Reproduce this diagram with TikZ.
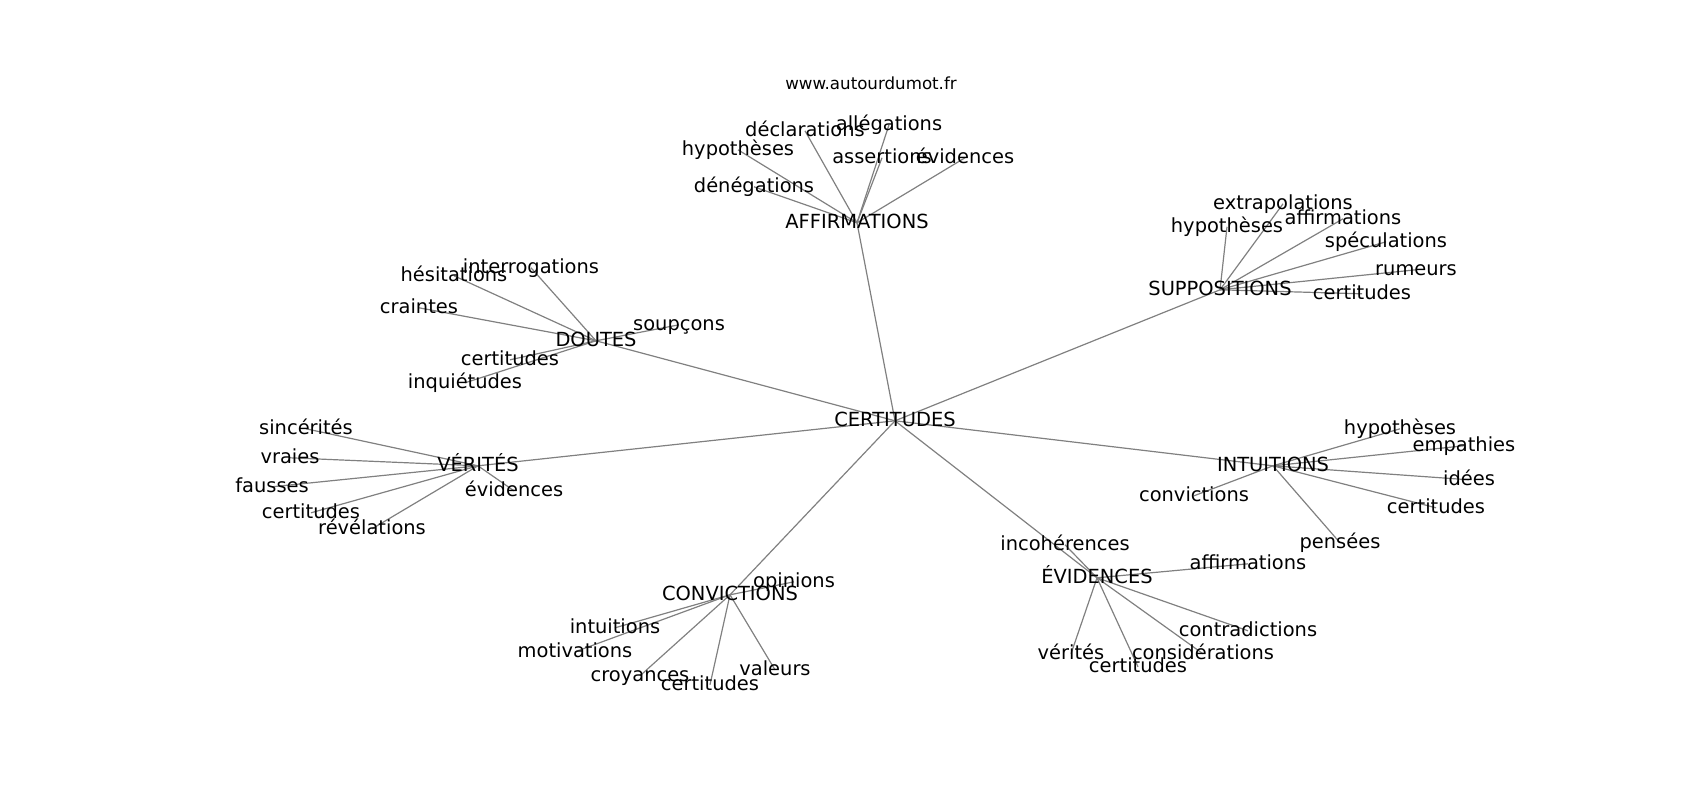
\documentclass[tikz,border=0pt]{standalone}
\usepackage{fontspec}
\setmainfont{DejaVu Sans}
\pgfdeclarelayer{bg}
\pgfsetlayers{bg,main}
\tikzset{
  lbl/.style={inner sep=0pt, text height=14.77pt, text depth=4.08pt, font=\fontsize{19.44}{23}\selectfont},
  ttl/.style={inner sep=0pt, text height=12.67pt, text depth=3.5pt, font=\fontsize{16.67}{20}\selectfont},
  edge/.style={draw=gray, line width=1.2pt}
}
\begin{document}
\begin{tikzpicture}[x=1pt,y=-1pt]
\useasboundingbox (0,0) rectangle (1700,800);
\begin{scope}[yshift=-1.8pt]
\node[ttl] (title) at (871,83) {www.autourdumot.fr};
% hub
\node[lbl] (c) at (895,419) {CERTITUDES};
% affirmations
\node[lbl] (A) at (857,221) {AFFIRMATIONS};
\node[lbl] (a1) at (805,129) {déclarations};
\node[lbl] (a2) at (889,123) {allégations};
\node[lbl] (a3) at (738,148) {hypothèses};
\node[lbl] (a4) at (882,156) {assertions};
\node[lbl] (a5) at (965,156) {évidences};
\node[lbl] (a6) at (754,185) {dénégations};
% suppositions
\node[lbl] (S) at (1220,288) {SUPPOSITIONS};
\node[lbl] (s1) at (1283,202) {extrapolations};
\node[lbl] (s2) at (1227,225) {hypothèses};
\node[lbl] (s3) at (1343,217) {affirmations};
\node[lbl] (s4) at (1386,240) {spéculations};
\node[lbl] (s5) at (1416,268) {rumeurs};
\node[lbl] (s6) at (1362,292) {certitudes};
% doutes
\node[lbl] (D) at (596,339) {DOUTES};
\node[lbl] (d1) at (531,266) {interrogations};
\node[lbl] (d2) at (454,274) {hésitations};
\node[lbl] (d3) at (419,306) {craintes};
\node[lbl] (d4) at (679,323) {soupçons};
\node[lbl] (d5) at (510,358) {certitudes};
\node[lbl] (d6) at (465,381) {inquiétudes};
% verites
\node[lbl] (V) at (478,464) {VÉRITÉS};
\node[lbl] (v1) at (306,427) {sincérités};
\node[lbl] (v2) at (290,456) {vraies};
\node[lbl] (v3) at (272,485) {fausses};
\node[lbl] (v4) at (311,511) {certitudes};
\node[lbl] (v5) at (372,527) {révélations};
\node[lbl] (v6) at (514,489) {évidences};
% intuitions
\node[lbl] (I) at (1273,464) {INTUITIONS};
\node[lbl] (i1) at (1400,427) {hypothèses};
\node[lbl] (i2) at (1464,444) {empathies};
\node[lbl] (i3) at (1469,478) {idées};
\node[lbl] (i4) at (1436,506) {certitudes};
\node[lbl] (i5) at (1340,541) {pensées};
\node[lbl] (i6) at (1194,494) {convictions};
% convictions
\node[lbl] (C) at (730,593) {CONVICTIONS};
\node[lbl] (o1) at (794,580) {opinions};
\node[lbl] (o2) at (615,626) {intuitions};
\node[lbl] (o3) at (575,650) {motivations};
\node[lbl] (o4) at (640,674) {croyances};
\node[lbl] (o5) at (710,683) {certitudes};
\node[lbl] (o6) at (775,668) {valeurs};
% evidences
\node[lbl] (E) at (1097,576) {ÉVIDENCES};
\node[lbl] (e1) at (1065,543) {incohérences};
\node[lbl] (e2) at (1248,562) {affirmations};
\node[lbl] (e3) at (1248,629) {contradictions};
\node[lbl] (e4) at (1203,652) {considérations};
\node[lbl] (e5) at (1138,665) {certitudes};
\node[lbl] (e6) at (1071,652) {vérités};
\begin{pgfonlayer}{bg}
\foreach \h in {A,S,D,V,I,C,E} \draw[edge] (c.center) -- (\h.center);
\foreach \l in {a1,a2,a3,a4,a5,a6} \draw[edge] (A.center) -- (\l.center);
\foreach \l in {s1,s2,s3,s4,s5,s6} \draw[edge] (S.center) -- (\l.center);
\foreach \l in {d1,d2,d3,d4,d5,d6} \draw[edge] (D.center) -- (\l.center);
\foreach \l in {v1,v2,v3,v4,v5,v6} \draw[edge] (V.center) -- (\l.center);
\foreach \l in {i1,i2,i3,i4,i5,i6} \draw[edge] (I.center) -- (\l.center);
\foreach \l in {o1,o2,o3,o4,o5,o6} \draw[edge] (C.center) -- (\l.center);
\foreach \l in {e1,e2,e3,e4,e5,e6} \draw[edge] (E.center) -- (\l.center);
\end{pgfonlayer}
\end{scope}
\end{tikzpicture}
\end{document}
